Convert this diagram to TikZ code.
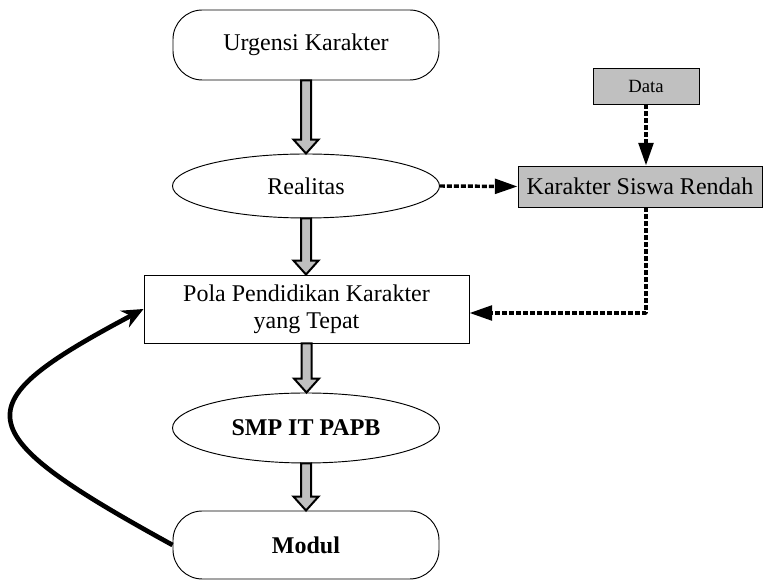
\documentclass[tikz,border=0pt]{standalone}
\usepackage{fontspec}
\setmainfont{Liberation Serif}
\usetikzlibrary{shapes.geometric,arrows.meta,calc}
\definecolor{boxgray}{HTML}{C0C0C0}
\newcommand{\blockarr}[2]{%
  \path let \p1=(#1.south), \p2=(#2.north) in
    [draw=black, line width=1.5pt, fill=boxgray, line join=miter]
    ({\x1-3.75pt},{\y1}) -- ({\x1-3.75pt},{\y2+10.5pt}) -- ({\x1-9.4pt},{\y2+10.5pt})
    -- ({\x1},{\y2}) -- ({\x1+9.4pt},{\y2+10.5pt}) -- ({\x1+3.75pt},{\y2+10.5pt})
    -- ({\x1+3.75pt},{\y1}) -- cycle;}
\begin{document}
\begin{tikzpicture}[x=0.75pt,y=-0.75pt,
  base/.style={draw=black, line width=0.7pt, inner sep=0pt, align=center,
    font=\fontsize{18}{20}\selectfont},
  rbox/.style={base, rectangle, rounded corners=22pt, minimum width=199.5pt, minimum height=51pt},
  ell/.style={base, ellipse, minimum width=200.25pt, minimum height=48pt},
  sqbox/.style={base, rectangle},
  graybox/.style={base, rectangle, fill=boxgray},
  dotarr/.style={line width=2.6pt, dash pattern=on 3.75pt off 1.5pt,
    -{Triangle[length=17pt,width=11pt]}},
  loop/.style={line width=3.5pt, -{Stealth[length=16pt,width=14pt]}}
]
\useasboundingbox (0,0) rectangle (769,580);

\node[rbox, minimum height=52.5pt] (urg) at (306,45) {Urgensi Karakter};
\node[ell] (real) at (306,186) {Realitas};
\node[sqbox, minimum width=243.75pt, minimum height=51pt] (pola) at (306.5,309)
  {Pola Pendidikan Karakter\\yang Tepat};
\node[ell, minimum height=52.5pt, font=\fontsize{18}{20}\selectfont\bfseries] (smp) at (306,428) {SMP IT PAPB};
\node[rbox, font=\fontsize{18}{20}\selectfont\bfseries] (modul) at (306,545) {Modul};
\node[graybox, minimum width=183pt, minimum height=30.75pt] (kar) at (640,186.5) {Karakter Siswa Rendah};
\node[graybox, minimum width=79.5pt, minimum height=27pt, font=\fontsize{14}{16}\selectfont] (data) at (646,86) {Data};

\blockarr{urg}{real}
\blockarr{real}{pola}
\blockarr{pola}{smp}
\blockarr{smp}{modul}

\coordinate (yref) at (0,313);
\draw[dotarr] (data.south) -- (data.south |- kar.north);
\draw[dotarr] (real.east) -- (kar.west);
\draw[dotarr, line join=round] (data.south |- kar.south) -- (data.south |- yref) -- (yref -| pola.east);

\draw[loop] (modul.west) .. controls (-37,430) and (-37,405) .. (pola.west);
\end{tikzpicture}
\end{document}
